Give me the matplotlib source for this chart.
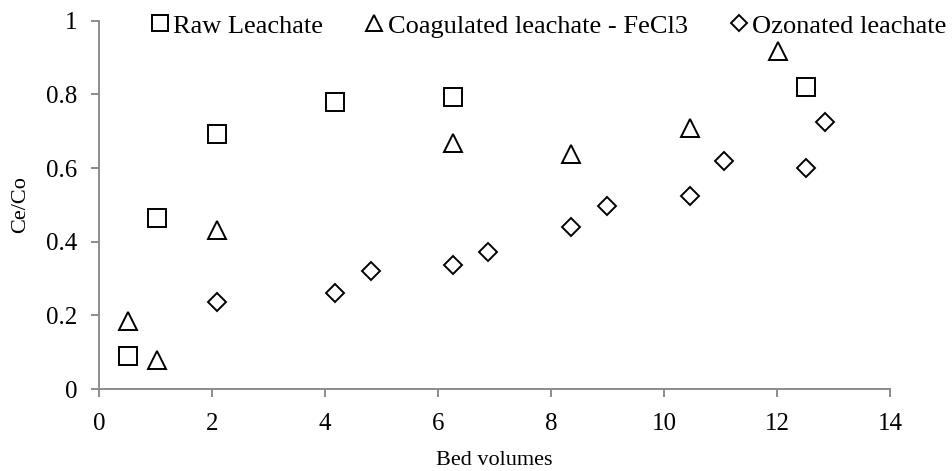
import matplotlib
matplotlib.use("Agg")
import matplotlib.pyplot as plt
from matplotlib.ticker import FuncFormatter

plt.rcParams["font.family"] = ["Liberation Serif", "DejaVu Serif"]

# Breakthrough data: bed volumes vs Ce/Co
raw_x = [0.52, 1.03, 2.08, 4.17, 6.26, 12.52]
raw_y = [0.09, 0.464, 0.693, 0.78, 0.794, 0.82]

coag_x = [0.52, 1.03, 2.08, 6.27, 8.35, 10.45, 12.01]
coag_y = [0.186, 0.08, 0.432, 0.669, 0.637, 0.708, 0.919]

ozon_x = [2.08, 4.18, 4.81, 6.26, 6.89, 8.35, 8.99, 10.45, 11.06, 12.52, 12.85]
ozon_y = [0.235, 0.26, 0.321, 0.337, 0.373, 0.441, 0.497, 0.525, 0.62, 0.60, 0.726]

series_labels = ["Raw Leachate", "Coagulated leachate - FeCl3", "Ozonated leachate"]

x_ticks = [0, 2, 4, 6, 8, 10, 12, 14]
y_ticks = [0, 0.2, 0.4, 0.6, 0.8, 1.0]

fig = plt.figure(figsize=(9.53, 4.71), dpi=100)
ax = fig.add_axes([0.104, 0.174, 0.830, 0.782])

mk = dict(linestyle="none", markerfacecolor="none", markeredgecolor="black",
          markeredgewidth=1.4, clip_on=False)
ax.plot(raw_x, raw_y, marker="s", markersize=13, label=series_labels[0], **mk)
ax.plot(coag_x, coag_y, marker="^", markersize=13.5, label=series_labels[1], **mk)
ax.plot(ozon_x, ozon_y, marker="D", markersize=9.5, label=series_labels[2], **mk)

ax.set_xlim(0, 14)
ax.set_ylim(0, 1)
ax.set_xticks(x_ticks)
ax.set_yticks(y_ticks)
ax.yaxis.set_major_formatter(FuncFormatter(lambda v, p: f"{v:g}"))

for side in ("top", "right"):
    ax.spines[side].set_visible(False)
for side in ("left", "bottom"):
    ax.spines[side].set_color("#8c8c8c")
    ax.spines[side].set_linewidth(1.4)
ax.tick_params(axis="both", direction="out", length=5.5, width=1.4,
               color="#8c8c8c", labelsize=18, labelcolor="black")
ax.tick_params(axis="x", pad=12)
ax.tick_params(axis="y", pad=10)

ax.set_xlabel("Bed volumes", fontsize=16, labelpad=11)
ax.set_ylabel("Ce/Co", fontsize=16, labelpad=11.5)

leg = fig.legend(loc="upper left", bbox_to_anchor=(0.158, 0.970), ncol=3,
                 frameon=False, fontsize=19, handlelength=0.7, handletextpad=0.15,
                 columnspacing=1.6, markerscale=0.85, borderpad=0,
                 borderaxespad=0)

fig.savefig("out.png", dpi=100)
